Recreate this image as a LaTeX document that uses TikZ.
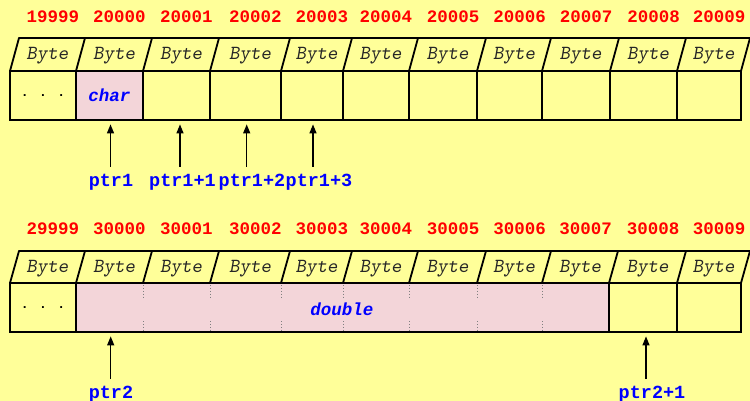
\documentclass[tikz,border=0pt]{standalone}
\usepackage{fontspec}
\newfontfamily\libmono{Liberation Mono}
\usetikzlibrary{arrows.meta}
\definecolor{bgyellow}{HTML}{FFFF99}
\definecolor{cellpink}{HTML}{F3D5D9}
\definecolor{addrred}{HTML}{FF0000}
\definecolor{ptrblue}{HTML}{0000FF}
\definecolor{tickgray}{HTML}{808080}
\begin{document}
\begin{tikzpicture}[x=1pt,y=-1pt,
  rowline/.style={line width=1.8pt,line cap=round,line join=round},
  cell/.style={draw,line width=1.8pt,inner sep=0pt,minimum height=49pt},
  bytelabel/.style={inner sep=0pt,text=black!85,font=\fontsize{20}{20}\selectfont\ttfamily\slshape},
  addr/.style={inner sep=0pt,text=addrred,font=\fontsize{17.5}{17.5}\selectfont\libmono\bfseries},
  typelabel/.style={inner sep=0pt,text=ptrblue,font=\fontsize{17.5}{17.5}\selectfont\libmono\bfseries\itshape},
  dots/.style={inner sep=0pt,font=\fontsize{13}{13}\selectfont\libmono\bfseries},
  ptrlabel/.style={inner sep=0pt,text=ptrblue,font=\fontsize{18.5}{18.5}\selectfont\libmono\bfseries},
  ptr/.style={line width=1.3pt,-{Triangle[length=9pt,width=7pt]},shorten >=3.5pt},
  tick/.style={tickgray,line width=0.9pt,dotted}
]
\fill[bgyellow] (0,0) rectangle (750,401);
\useasboundingbox (0,0) rectangle (750,401);

% ---------------- Row 1 ----------------
\draw[rowline] (19,38) -- (750,38);
\foreach \a/\b/\n [count=\i] in {10/76/19999,76/143/20000,143/210/20001,210/281/20002,281/343/20003,343/409/20004,409/477/20005,477/542/20006,542/610/20007,610/677/20008,677/741/20009}{
  \draw[rowline] (\a,71) -- (\a+9,38);
  \node[bytelabel] (h1-\i) at ({(\a+\b)/2+4.5},56) {Byte};
  \node[addr] (a1-\i) at ({(\a+\b)/2+10},17) {\n};
  \node[cell,minimum width={\b-\a}] (c1-\i) at ({(\a+\b)/2},95.5) {};
}
\draw[rowline] (741,71) -- (750,38);
\node[cell,fill=cellpink,minimum width=67] (c1-2) at (109.5,95.5) {};
\node[typelabel] (char) at (c1-2.center) {char};
\node[dots] (d1) at (c1-1.center) {. . .};

\coordinate (t1) at (110.5,167);
\coordinate (t2) at (180,167);
\coordinate (t3) at (246.7,167);
\coordinate (t4) at (313,167);
\draw[ptr] (t1) -- (t1 |- c1-2.south);
\draw[ptr] (t2) -- (t2 |- c1-3.south);
\draw[ptr] (t3) -- (t3 |- c1-4.south);
\draw[ptr] (t4) -- (t4 |- c1-5.south);
\node[ptrlabel] (l1) at (111,182) {ptr1};
\node[ptrlabel] (l2) at (182.5,182) {ptr1+1};
\node[ptrlabel] (l3) at (252,182) {ptr1+2};
\node[ptrlabel] (l4) at (319,182) {ptr1+3};

% ---------------- Row 2 ----------------
\draw[rowline] (19,251) -- (750,251);
\foreach \a/\b/\n [count=\i] in {10/76/29999,76/143/30000,143/210/30001,210/281/30002,281/343/30003,343/409/30004,409/477/30005,477/542/30006,542/609/30007,609/677/30008,677/741/30009}{
  \draw[rowline] (\a,283) -- (\a+9,251);
  \node[bytelabel] (h2-\i) at ({(\a+\b)/2+4.5},269) {Byte};
  \node[addr] (a2-\i) at ({(\a+\b)/2+10},229) {\n};
}
\draw[rowline] (741,283) -- (750,251);
\node[cell,minimum width=66] (c2-1) at (43,307.5) {};
\node[cell,fill=cellpink,minimum width=533] (dbl) at (342.5,307.5) {};
\node[cell,minimum width=68] (c2-10) at (643,307.5) {};
\node[cell,minimum width=64] (c2-11) at (709,307.5) {};
\foreach \x in {143,210,281,343,409,477,542}{
  \draw[tick] (\x,285) -- (\x,297);
  \draw[tick] (\x,321) -- (\x,331);
}
\node[typelabel] (dlab) at (342,309) {double};
\node[dots] (d2) at (c2-1.center) {. . .};

\coordinate (t5) at (110.7,379);
\coordinate (t6) at (646,379);
\draw[ptr] (t5) -- (t5 |- dbl.south);
\draw[ptr] (t6) -- (t6 |- c2-10.south);
\node[ptrlabel] (l5) at (111,394) {ptr2};
\node[ptrlabel] (l6) at (652,394) {ptr2+1};
\end{tikzpicture}
\end{document}
